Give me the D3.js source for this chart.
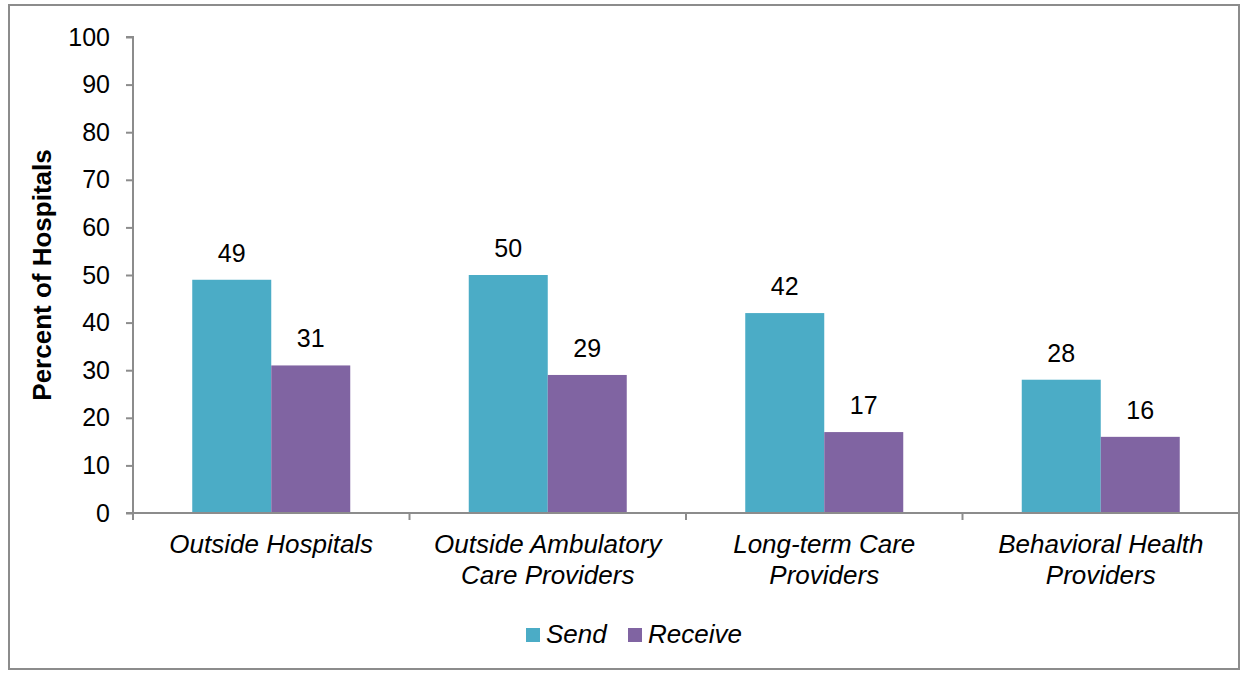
<!DOCTYPE html>
<html><head><meta charset="utf-8">
<script src="https://cdn.jsdelivr.net/npm/d3@7"></script>
<style>body{margin:0;background:#fff}svg{display:block}</style>
</head><body>
<svg id="c" width="1244" height="674"></svg>
<script>
const categories = [["Outside Hospitals"],["Outside Ambulatory","Care Providers"],["Long-term Care","Providers"],["Behavioral Health","Providers"]];
const seriesNames = ["Send","Receive"];
const sendValues = [49,50,42,28];
const receiveValues = [31,29,17,16];
const yTicks = [0,10,20,30,40,50,60,70,80,90,100];
const colors = ["#4BACC6","#8064A2"];

const svg = d3.select("#c");
const font = "Liberation Sans, Arial, sans-serif";
svg.append("rect").attr("x",9).attr("y",5).attr("width",1230).attr("height",664)
  .attr("fill","#fff").attr("stroke","#8c8c8c").attr("stroke-width",2);

const pL=133, pR=1239, pT=37, pB=513;
const x = d3.scaleBand().domain(d3.range(categories.length)).range([pL,pR]).paddingInner(0).paddingOuter(0);
const xs = d3.scaleBand().domain(seriesNames).range([0,x.bandwidth()]).paddingInner(0).paddingOuter(0.75);
const y = d3.scaleLinear().domain([0,100]).range([pB,pT]);

const data = [sendValues, receiveValues];
const g = svg.append("g");
categories.forEach((c,i)=>{
  seriesNames.forEach((s,j)=>{
    const v = data[j][i];
    g.append("rect").attr("x",x(i)+xs(s)).attr("y",y(v)).attr("width",xs.bandwidth()).attr("height",y(0)-y(v)).attr("fill",colors[j]);
    g.append("text").attr("x",x(i)+xs(s)+xs.bandwidth()/2).attr("y",y(v)-18)
      .attr("text-anchor","middle").attr("font-family",font).attr("font-size",25).attr("fill","#000").text(v);
  });
});

// y axis
const ya = svg.append("g").attr("transform",`translate(${pL},0)`)
  .call(d3.axisLeft(y).tickValues(yTicks).tickSize(7).tickPadding(16));
ya.select(".domain").attr("stroke","#8c8c8c").attr("stroke-width",2).attr("d",`M-7,${pT}H0V${pB}`);
ya.selectAll(".tick line").attr("stroke","#8c8c8c").attr("stroke-width",2);
ya.selectAll(".tick text").attr("font-family",font).attr("font-size",25).attr("fill","#000");

// x axis
const xa = svg.append("g").attr("transform",`translate(0,${pB})`);
xa.append("line").attr("x1",pL-7).attr("x2",pR).attr("y1",0).attr("y2",0).attr("stroke","#8c8c8c").attr("stroke-width",2);
d3.range(categories.length+1).forEach(i=>{
  const xx = i<categories.length ? x(i) : pR;
  xa.append("line").attr("x1",xx).attr("x2",xx).attr("y1",0).attr("y2",7).attr("stroke","#8c8c8c").attr("stroke-width",2);
});
categories.forEach((c,i)=>{
  const t = xa.append("text").attr("text-anchor","middle").attr("font-family",font).attr("font-size",26)
    .attr("font-style","italic").attr("fill","#000");
  c.forEach((line,k)=>{
    t.append("tspan").attr("x",x(i)+x.bandwidth()/2).attr("y",40+k*31).text(line);
  });
});

// y title
svg.append("text").attr("transform",`translate(51,${(pT+pB)/2}) rotate(-90)`).attr("text-anchor","middle")
  .attr("font-family",font).attr("font-size",26).attr("font-weight","bold").attr("fill","#000").text("Percent of Hospitals");

// legend
const legX=[526,628];
seriesNames.forEach((s,j)=>{
  svg.append("rect").attr("x",legX[j]).attr("y",628).attr("width",14).attr("height",14).attr("fill",colors[j]);
  svg.append("text").attr("x",legX[j]+20).attr("y",643).attr("font-family",font).attr("font-size",26)
    .attr("font-style","italic").attr("fill","#000").text(s);
});
</script>
</body></html>
